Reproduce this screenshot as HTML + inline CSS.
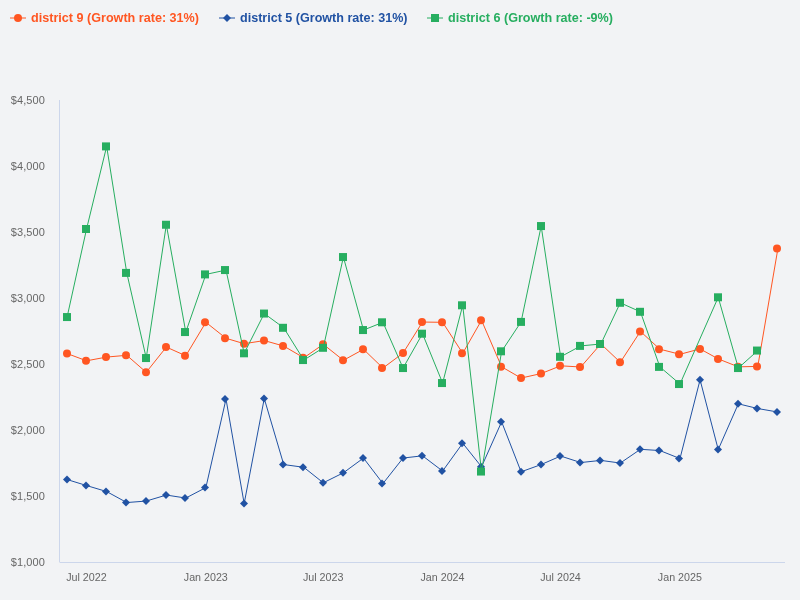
<!DOCTYPE html><html><head><meta charset="utf-8"><title>chart</title><style>html,body{margin:0;padding:0;background:#f2f3f5;overflow:hidden}</style></head><body><svg width="800" height="600" viewBox="0 0 800 600" style="display:block;font-family:'Liberation Sans',sans-serif">
<rect width="800" height="600" fill="#f2f3f5"/>
<path d="M59.5 100V562.5M60 562.5H785" stroke="#ccd6eb" stroke-width="1" fill="none"/>
<path d="M67.11 353.55 L86.56 360.8 L106.67 357.05 L126.77 355.3 L146.23 372.3 L166.33 347.05 L185.79 355.8 L205.89 322.3 L226.0 338.3 L244.16 343.7 L264.26 340.55 L283.72 346.05 L303.82 357.8 L323.28 344.3 L343.38 360.3 L363.49 349.3 L382.94 368.05 L403.05 353.05 L422.5 322.05 L442.61 322.3 L462.71 353.3 L481.52 320.3 L501.62 366.8 L521.08 378.05 L541.18 373.55 L560.64 365.8 L580.74 367.0 L600.85 343.9 L620.3 362.3 L640.41 331.4 L659.86 349.2 L679.97 354.3 L700.07 348.9 L718.23 358.9 L738.34 366.85 L757.79 366.4 L777.9 248.55" fill="none" stroke="#ff5622" stroke-width="1" stroke-linejoin="round" stroke-linecap="round"/>
<g fill="#ff5622"><circle cx="67" cy="353.55" r="4"/><circle cx="86" cy="360.8" r="4"/><circle cx="106" cy="357.05" r="4"/><circle cx="126" cy="355.3" r="4"/><circle cx="146" cy="372.3" r="4"/><circle cx="166" cy="347.05" r="4"/><circle cx="185" cy="355.8" r="4"/><circle cx="205" cy="322.3" r="4"/><circle cx="225" cy="338.3" r="4"/><circle cx="244" cy="343.7" r="4"/><circle cx="264" cy="340.55" r="4"/><circle cx="283" cy="346.05" r="4"/><circle cx="303" cy="357.8" r="4"/><circle cx="323" cy="344.3" r="4"/><circle cx="343" cy="360.3" r="4"/><circle cx="363" cy="349.3" r="4"/><circle cx="382" cy="368.05" r="4"/><circle cx="403" cy="353.05" r="4"/><circle cx="422" cy="322.05" r="4"/><circle cx="442" cy="322.3" r="4"/><circle cx="462" cy="353.3" r="4"/><circle cx="481" cy="320.3" r="4"/><circle cx="501" cy="366.8" r="4"/><circle cx="521" cy="378.05" r="4"/><circle cx="541" cy="373.55" r="4"/><circle cx="560" cy="365.8" r="4"/><circle cx="580" cy="367.0" r="4"/><circle cx="600" cy="343.9" r="4"/><circle cx="620" cy="362.3" r="4"/><circle cx="640" cy="331.4" r="4"/><circle cx="659" cy="349.2" r="4"/><circle cx="679" cy="354.3" r="4"/><circle cx="700" cy="348.9" r="4"/><circle cx="718" cy="358.9" r="4"/><circle cx="738" cy="366.85" r="4"/><circle cx="757" cy="366.4" r="4"/><circle cx="777" cy="248.55" r="4"/></g>
<path d="M67.11 479.55 L86.56 485.55 L106.67 491.55 L126.77 502.55 L146.23 501.05 L166.33 495.05 L185.79 498.05 L205.89 487.55 L226.0 399.05 L244.16 503.55 L264.26 398.55 L283.72 464.55 L303.82 467.3 L323.28 482.8 L343.38 472.8 L363.49 458.05 L382.94 483.55 L403.05 458.05 L422.5 455.8 L442.61 471.05 L462.71 443.2 L481.52 466.8 L501.62 421.8 L521.08 471.8 L541.18 464.55 L560.64 456.05 L580.74 462.55 L600.85 460.4 L620.3 463.05 L640.41 449.3 L659.86 450.55 L679.97 458.55 L700.07 379.8 L718.23 449.55 L738.34 403.8 L757.79 408.55 L777.9 412.05" fill="none" stroke="#2152a3" stroke-width="1" stroke-linejoin="round" stroke-linecap="round"/>
<g fill="#2152a3"><path d="M67 475.55L71 479.55L67 483.55L63 479.55Z"/><path d="M86 481.55L90 485.55L86 489.55L82 485.55Z"/><path d="M106 487.55L110 491.55L106 495.55L102 491.55Z"/><path d="M126 498.55L130 502.55L126 506.55L122 502.55Z"/><path d="M146 497.05L150 501.05L146 505.05L142 501.05Z"/><path d="M166 491.05L170 495.05L166 499.05L162 495.05Z"/><path d="M185 494.05L189 498.05L185 502.05L181 498.05Z"/><path d="M205 483.55L209 487.55L205 491.55L201 487.55Z"/><path d="M225 395.05L229 399.05L225 403.05L221 399.05Z"/><path d="M244 499.55L248 503.55L244 507.55L240 503.55Z"/><path d="M264 394.55L268 398.55L264 402.55L260 398.55Z"/><path d="M283 460.55L287 464.55L283 468.55L279 464.55Z"/><path d="M303 463.3L307 467.3L303 471.3L299 467.3Z"/><path d="M323 478.8L327 482.8L323 486.8L319 482.8Z"/><path d="M343 468.8L347 472.8L343 476.8L339 472.8Z"/><path d="M363 454.05L367 458.05L363 462.05L359 458.05Z"/><path d="M382 479.55L386 483.55L382 487.55L378 483.55Z"/><path d="M403 454.05L407 458.05L403 462.05L399 458.05Z"/><path d="M422 451.8L426 455.8L422 459.8L418 455.8Z"/><path d="M442 467.05L446 471.05L442 475.05L438 471.05Z"/><path d="M462 439.2L466 443.2L462 447.2L458 443.2Z"/><path d="M481 462.8L485 466.8L481 470.8L477 466.8Z"/><path d="M501 417.8L505 421.8L501 425.8L497 421.8Z"/><path d="M521 467.8L525 471.8L521 475.8L517 471.8Z"/><path d="M541 460.55L545 464.55L541 468.55L537 464.55Z"/><path d="M560 452.05L564 456.05L560 460.05L556 456.05Z"/><path d="M580 458.55L584 462.55L580 466.55L576 462.55Z"/><path d="M600 456.4L604 460.4L600 464.4L596 460.4Z"/><path d="M620 459.05L624 463.05L620 467.05L616 463.05Z"/><path d="M640 445.3L644 449.3L640 453.3L636 449.3Z"/><path d="M659 446.55L663 450.55L659 454.55L655 450.55Z"/><path d="M679 454.55L683 458.55L679 462.55L675 458.55Z"/><path d="M700 375.8L704 379.8L700 383.8L696 379.8Z"/><path d="M718 445.55L722 449.55L718 453.55L714 449.55Z"/><path d="M738 399.8L742 403.8L738 407.8L734 403.8Z"/><path d="M757 404.55L761 408.55L757 412.55L753 408.55Z"/><path d="M777 408.05L781 412.05L777 416.05L773 412.05Z"/></g>
<path d="M67.11 317.05 L86.56 229.0 L106.67 146.4 L126.77 272.9 L146.23 358.05 L166.33 224.75 L185.79 332.05 L205.89 274.4 L226.0 270.05 L244.16 353.3 L264.26 313.55 L283.72 327.8 L303.82 360.05 L323.28 347.8 L343.38 257.05 L363.49 330.05 L382.94 322.3 L403.05 368.05 L422.5 333.7 L442.61 383.05 L462.71 305.3 L481.52 471.55 L501.62 351.3 L521.08 321.9 L541.18 226.05 L560.64 356.8 L580.74 345.9 L600.85 344.0 L620.3 302.8 L640.41 311.8 L659.86 366.9 L679.97 384.05 L718.23 297.3 L738.34 368.05 L757.79 350.55" fill="none" stroke="#27ae60" stroke-width="1" stroke-linejoin="round" stroke-linecap="round"/>
<g fill="#27ae60"><rect x="63" y="313.05" width="8" height="8"/><rect x="82" y="225.0" width="8" height="8"/><rect x="102" y="142.4" width="8" height="8"/><rect x="122" y="268.9" width="8" height="8"/><rect x="142" y="354.05" width="8" height="8"/><rect x="162" y="220.75" width="8" height="8"/><rect x="181" y="328.05" width="8" height="8"/><rect x="201" y="270.4" width="8" height="8"/><rect x="221" y="266.05" width="8" height="8"/><rect x="240" y="349.3" width="8" height="8"/><rect x="260" y="309.55" width="8" height="8"/><rect x="279" y="323.8" width="8" height="8"/><rect x="299" y="356.05" width="8" height="8"/><rect x="319" y="343.8" width="8" height="8"/><rect x="339" y="253.05" width="8" height="8"/><rect x="359" y="326.05" width="8" height="8"/><rect x="378" y="318.3" width="8" height="8"/><rect x="399" y="364.05" width="8" height="8"/><rect x="418" y="329.7" width="8" height="8"/><rect x="438" y="379.05" width="8" height="8"/><rect x="458" y="301.3" width="8" height="8"/><rect x="477" y="467.55" width="8" height="8"/><rect x="497" y="347.3" width="8" height="8"/><rect x="517" y="317.9" width="8" height="8"/><rect x="537" y="222.05" width="8" height="8"/><rect x="556" y="352.8" width="8" height="8"/><rect x="576" y="341.9" width="8" height="8"/><rect x="596" y="340.0" width="8" height="8"/><rect x="616" y="298.8" width="8" height="8"/><rect x="636" y="307.8" width="8" height="8"/><rect x="655" y="362.9" width="8" height="8"/><rect x="675" y="380.05" width="8" height="8"/><rect x="714" y="293.3" width="8" height="8"/><rect x="734" y="364.05" width="8" height="8"/><rect x="753" y="346.55" width="8" height="8"/></g>
<g fill="#666" font-size="11" text-anchor="end" letter-spacing="0.1">
<text x="45" y="104">$4,500</text>
<text x="45" y="170">$4,000</text>
<text x="45" y="236">$3,500</text>
<text x="45" y="302">$3,000</text>
<text x="45" y="368">$2,500</text>
<text x="45" y="434">$2,000</text>
<text x="45" y="500">$1,500</text>
<text x="45" y="566">$1,000</text>
</g>
<g fill="#666" font-size="11">
<text x="86.46000000000001" y="581" text-anchor="middle" textLength="40.6" lengthAdjust="spacingAndGlyphs">Jul 2022</text>
<text x="205.79" y="581" text-anchor="middle" textLength="44" lengthAdjust="spacingAndGlyphs">Jan 2023</text>
<text x="323.17999999999995" y="581" text-anchor="middle" textLength="40.6" lengthAdjust="spacingAndGlyphs">Jul 2023</text>
<text x="442.51" y="581" text-anchor="middle" textLength="44" lengthAdjust="spacingAndGlyphs">Jan 2024</text>
<text x="560.54" y="581" text-anchor="middle" textLength="40.6" lengthAdjust="spacingAndGlyphs">Jul 2024</text>
<text x="679.87" y="581" text-anchor="middle" textLength="44" lengthAdjust="spacingAndGlyphs">Jan 2025</text>
</g>
<g font-size="12.5" font-weight="bold">
<path d="M10 18H26" stroke="#ff5622" stroke-width="1"/>
<circle cx="18" cy="18" r="4" fill="#ff5622"/>
<text x="31" y="22" fill="#ff5622" textLength="168" lengthAdjust="spacingAndGlyphs">district 9 (Growth rate: 31%)</text>
<path d="M219 18H235" stroke="#2152a3" stroke-width="1"/>
<path d="M227 14L231 18L227 22L223 18Z" fill="#2152a3"/>
<text x="240" y="22" fill="#2152a3" textLength="167.5" lengthAdjust="spacingAndGlyphs">district 5 (Growth rate: 31%)</text>
<path d="M427 18H443" stroke="#27ae60" stroke-width="1"/>
<rect x="431" y="14" width="8" height="8" fill="#27ae60"/>
<text x="448" y="22" fill="#27ae60" textLength="165" lengthAdjust="spacingAndGlyphs">district 6 (Growth rate: -9%)</text>
</g>
</svg></body></html>
